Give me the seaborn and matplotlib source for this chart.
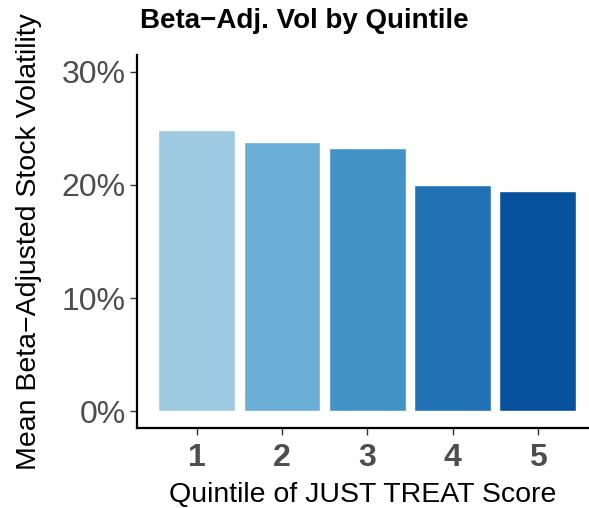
import matplotlib
matplotlib.use("Agg")
import matplotlib.pyplot as plt
import seaborn as sns
import pandas as pd
from matplotlib.ticker import FuncFormatter

quintiles = ["1", "2", "3", "4", "5"]
mean_vol = [24.9, 23.8, 23.3, 20.0, 19.5]
colors = ["#9ECAE1", "#6BAED6", "#4292C6", "#2171B5", "#08519C"]
y_ticks = [0, 10, 20, 30]

sns.set_theme(style="white")
plt.rcParams["font.family"] = ["Liberation Sans", "DejaVu Sans"]

df = pd.DataFrame({"q": quintiles, "v": mean_vol})

fig = plt.figure(figsize=(5.89, 5.08), dpi=100)
ax = fig.add_axes([0.2326, 0.1575, 0.7674, 0.7342])
sns.barplot(data=df, x="q", y="v", hue="q", palette=colors, width=0.9,
            legend=False, ax=ax, saturation=1)

ax.set_xlim(-0.7, 4.6)
ax.set_ylim(-1.5, 31.5)
ax.set_yticks(y_ticks)
ax.yaxis.set_major_formatter(FuncFormatter(lambda v, p: f"{int(v)}%"))
for s in ["top", "right"]:
    ax.spines[s].set_visible(False)
for s in ["left", "bottom"]:
    ax.spines[s].set_color("black")
    ax.spines[s].set_linewidth(1.6)

ax.tick_params(axis="y", labelsize=23, labelcolor="#4D4D4D", length=5,
               width=1.0, color="#333333", pad=3, left=True)
ax.tick_params(axis="x", labelsize=23, labelcolor="#4D4D4D", length=5,
               width=1.0, color="#333333", pad=6, bottom=True)
for lab in ax.get_xticklabels():
    lab.set_fontweight("bold")

ax.set_xlabel("Quintile of JUST TREAT Score", fontsize=20.5, color="black", labelpad=6)
ax.set_ylabel("Mean Beta\u2212Adjusted Stock Volatility", fontsize=20.5, color="black", labelpad=14)
fig.text(0.2377, 0.959, "Beta\u2212Adj. Vol by Quintile", fontsize=20,
         fontweight="bold", color="black", ha="left", va="center")

fig.savefig("out.png", dpi=100)
